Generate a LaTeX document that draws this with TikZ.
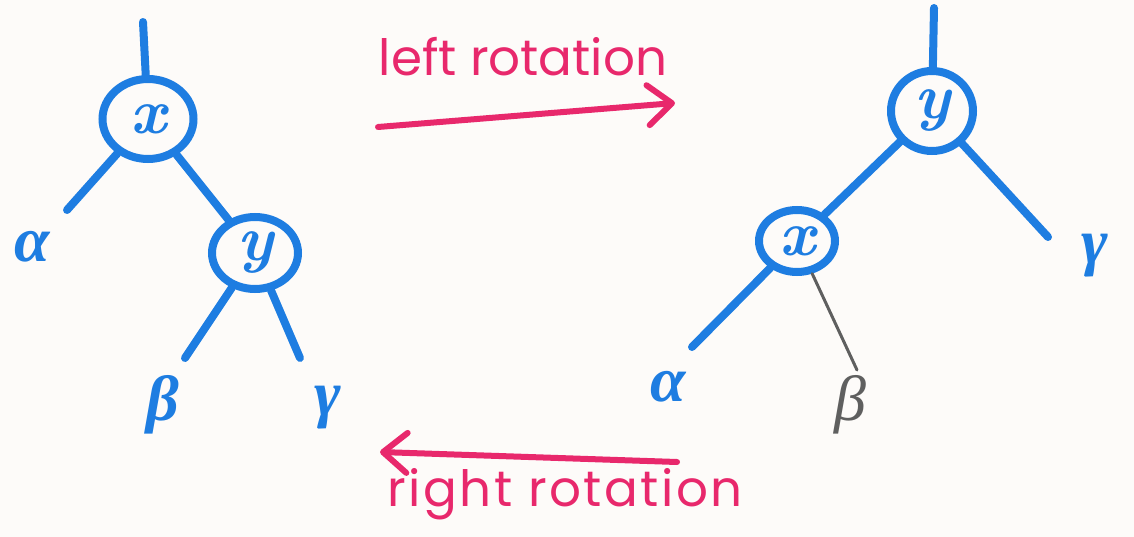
\documentclass[tikz,border=0pt]{standalone}
\usepackage{fontspec}
\setsansfont{Poppins}
\newfontfamily\grk{Liberation Serif}
\usetikzlibrary{shapes.geometric,arrows.meta}
\definecolor{mblue}{RGB}{30,125,225}
\definecolor{mpink}{RGB}{232,40,108}
\definecolor{mgray}{RGB}{95,95,95}
\definecolor{paper}{RGB}{253,251,249}
\begin{document}
\begin{tikzpicture}[x=1pt,y=-1pt,
  tnode/.style={ellipse, draw=mblue, line width=8pt, inner sep=0pt, text=mblue,
    font=\fontsize{64}{64}\selectfont\bfseries\itshape},
  edgeb/.style={draw=mblue, line width=8pt, line cap=round},
  edgeg/.style={draw=mgray, line width=3pt, line cap=round},
  leaf/.style={text=mblue, inner sep=0pt, font=\fontsize{64}{64}\grk\bfseries\itshape},
  rot/.style={text=mpink, inner sep=0pt, font=\fontsize{50}{50}\sffamily},
  rarrow/.style={draw=mpink, line width=6pt, line cap=round, line join=round,
    -{Straight Barb[length=24pt,width=40pt,round]}}]
  \fill[paper] (0,0) rectangle (1134,537);
  \useasboundingbox (0,0) rectangle (1134,537);

  % left tree
  \node[tnode, minimum width=91pt, minimum height=80pt] (lx) at (148,119) {x};
  \node[tnode, minimum width=86pt, minimum height=72pt] (ly) at (255,253) {y};
  \coordinate (ltop) at (143,22);
  \coordinate (lae) at (67,210);
  \coordinate (lbe) at (185,358);
  \coordinate (lge) at (300,358);
  \node[leaf] (la) at (32,247) {α};
  \node[leaf] (lb) at (163,405) {β};
  \node[leaf] (lg) at (328,408) {γ};
  \draw[edgeb] (ltop) -- (lx);
  \draw[edgeb] (lx) -- (lae);
  \draw[edgeb] (lx) -- (ly);
  \draw[edgeb] (ly) -- (lbe);
  \draw[edgeb] (ly) -- (lge);

  % right tree
  \node[tnode, minimum width=82pt, minimum height=80pt] (ry) at (932,111) {y};
  \node[tnode, minimum width=76pt, minimum height=62pt] (rx) at (797,241) {x};
  \coordinate (rtop) at (934,8);
  \coordinate (rge) at (1048,237);
  \coordinate (rae) at (692,347);
  \coordinate (rbe) at (857,370);
  \node[leaf] (rg) at (1095,256) {γ};
  \node[leaf] (ra) at (668,387) {α};
  \node[leaf, text=mgray, font=\fontsize{64}{64}\grk\itshape] (rb) at (850,405) {β};
  \draw[edgeb] (rtop) -- (ry);
  \draw[edgeb] (ry) -- (rx);
  \draw[edgeb] (ry) -- (rge);
  \draw[edgeb] (rx) -- (rae);
  \draw[edgeg] (rx) -- (rbe);

  % rotations
  \coordinate (t1) at (378,127);
  \coordinate (t2) at (675,103);
  \coordinate (b1) at (677,462);
  \coordinate (b2) at (380,452);
  \draw[rarrow] (t1) -- (t2);
  \draw[rarrow] (b1) -- (b2);
  \node[rot] (lrot) at (523,57) {left rotation};
  \node[rot] (rrot) at (565,494) {\addfontfeature{LetterSpace=5}right rotation};
\end{tikzpicture}
\end{document}
